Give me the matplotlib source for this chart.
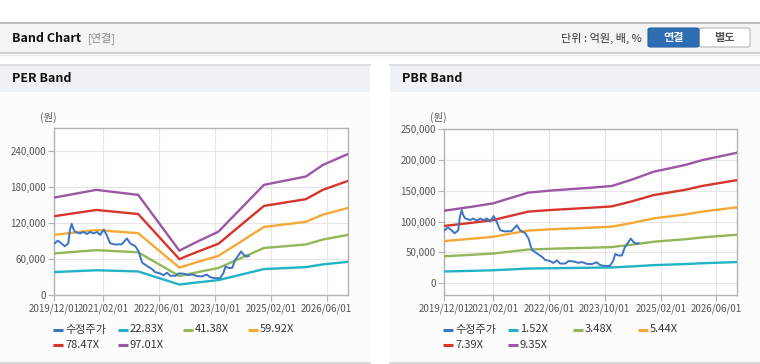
import matplotlib
matplotlib.use("Agg")
import matplotlib.pyplot as plt
import pandas as pd
import numpy as np
from matplotlib.patches import Rectangle, FancyBboxPatch
from matplotlib.lines import Line2D
from matplotlib.ticker import FuncFormatter

plt.rcParams['font.family'] = ['Noto Sans CJK KR', 'DejaVu Sans']

# ---------------- data ----------------
price_dates = ["2019-12-01", "2020-01-01", "2020-02-01", "2020-03-01", "2020-04-01", "2020-04-15",
               "2020-05-01", "2020-05-15", "2020-06-01", "2020-07-13", "2020-08-10", "2020-09-10",
               "2020-10-10", "2020-11-07", "2020-12-07", "2021-01-04", "2021-02-04", "2021-03-01",
               "2021-04-01", "2021-05-13", "2021-07-10", "2021-08-25", "2021-09-22", "2021-11-07",
               "2021-12-04", "2022-01-04", "2022-02-15", "2022-04-01", "2022-04-28", "2022-06-10",
               "2022-07-10", "2022-08-10", "2022-09-07", "2022-10-22", "2022-11-19", "2023-01-01",
               "2023-02-15", "2023-03-13", "2023-04-28", "2023-06-10", "2023-07-22", "2023-08-22",
               "2023-10-04", "2023-11-15", "2023-12-15", "2024-01-01", "2024-01-28", "2024-02-28",
               "2024-03-25", "2024-04-25", "2024-05-15", "2024-06-07", "2024-07-04", "2024-07-22"]
price_values = [85500, 90500, 86000, 81000, 86000, 108000,
                118500, 110000, 105000, 102500, 105000, 101500,
                105000, 102500, 105000, 100000, 109000, 100000,
                86000, 84000, 84500, 94000, 86000, 81000,
                73000, 54000, 48500, 43000, 38000, 36000,
                33000, 37000, 32000, 32000, 36000, 35500,
                33000, 34500, 31500, 31000, 34000, 29500,
                28000, 28000, 37000, 47500, 45000, 45000,
                58500, 66500, 72500, 67000, 64000, 65000]

eps_dates = ["2019-12-01", "2020-12-01", "2021-12-01", "2022-11-25", "2023-04-01",
             "2023-11-01", "2024-12-01", "2025-12-01", "2026-05-01", "2026-12-01"]
eps_values = [1672, 1804, 1718, 761, 888, 1088, 1890, 2033, 2234, 2417]
per_multiples = [22.83, 41.38, 59.92, 78.47, 97.01]

bps_dates = ["2019-12-01", "2020-08-01", "2021-02-01", "2021-06-01", "2021-12-01", "2022-06-01",
             "2023-06-01", "2023-12-01", "2024-06-01", "2024-12-01", "2025-09-01", "2026-02-01",
             "2026-12-01"]
bps_values = [12578, 13273, 13861, 14599, 15701, 16043, 16567, 16856, 18011, 19337, 20492, 21358, 22631]
pbr_multiples = [1.52, 3.48, 5.44, 7.39, 9.35]

price_label = "수정주가"
band_colors = ["#22b2c6", "#93b658", "#f5a835", "#d6352e", "#9a57a3"]
price_color = "#3b74c3"

xtick_dates = ["2019-12-01", "2021-02-01", "2022-06-01", "2023-10-01", "2025-02-01", "2026-06-01"]
xtick_labels = ["2019/12/01", "2021/02/01", "2022/06/01", "2023/10/01", "2025/02/01", "2026/06/01"]
per_yticks = [0, 60000, 120000, 180000, 240000]
pbr_yticks = [0, 50000, 100000, 150000, 200000, 250000]

# ---------------- figure ----------------
W, H = 760, 364
fig = plt.figure(figsize=(W / 100, H / 100), dpi=100)
fig.patch.set_facecolor("white")


def fx(x):
    return x / W


def fy(y):
    return 1 - y / H


def rect(x0, y0, x1, y1, fc, ec="none", lw=0, z=0):
    fig.add_artist(Rectangle((fx(x0), fy(y1)), fx(x1) - fx(x0), fy(y0) - fy(y1),
                             transform=fig.transFigure, facecolor=fc, edgecolor=ec, lw=lw, zorder=z))


def hline(x0, x1, y, color, lw=1.0):
    fig.add_artist(Line2D([fx(x0), fx(x1)], [fy(y), fy(y)], transform=fig.transFigure,
                          color=color, lw=lw))


# top header
rect(0, 22, 760, 53, "#f4f4f4")
hline(0, 760, 22.5, "#b4b4b4", 1.2)
hline(0, 760, 53, "#c9c9c9", 1.2)
hline(0, 760, 54.5, "#e6e6e6", 1.0)
fig.text(fx(12), fy(38), "Band Chart", fontsize=9, fontweight="bold", color="#111", va="center")
fig.text(fx(88), fy(38), "[연결]", fontsize=8, color="#8a8a8a", va="center")
fig.text(fx(642), fy(38), "단위 : 억원, 배, %", fontsize=8, color="#333", va="center", ha="right")
fig.add_artist(FancyBboxPatch((fx(699), fy(47)), fx(750) - fx(699), fy(28) - fy(47),
                              boxstyle="round,pad=0,rounding_size=0.004", transform=fig.transFigure,
                              facecolor="white", edgecolor="#b8b8b8", lw=0.8))
fig.add_artist(FancyBboxPatch((fx(648), fy(47)), fx(699) - fx(648), fy(28) - fy(47),
                              boxstyle="round,pad=0,rounding_size=0.004", transform=fig.transFigure,
                              facecolor="#2f6db3", edgecolor="#2a63a3", lw=0.8))
fig.text(fx(673.5), fy(37.5), "연결", fontsize=8, fontweight="bold", color="white", va="center", ha="center")
fig.text(fx(724.5), fy(37.5), "별도", fontsize=8, fontweight="bold", color="#555", va="center", ha="center")

# panels
panels = [(0, 370, "PER Band"), (390, 760, "PBR Band")]
for x0, x1, title in panels:
    rect(x0, 92, x1, 362, "#fcfcfc")
    rect(x0, 64, x1, 92, "#eef2f7")
    hline(x0, x1, 64.5, "#d6d9dd", 1.2)
    hline(x0, x1, 362.5, "#d2d2d2", 1.2)
    fig.text(fx(x0 + 12), fy(79), title, fontsize=9, fontweight="bold", color="#111", va="center")


def thousands(v, pos):
    return f"{int(v):,}"


def make_axes(left, right, top, bottom, ylim, yticks, ylab_x):
    ax = fig.add_axes([fx(left), fy(bottom), fx(right) - fx(left), fy(top) - fy(bottom)])
    ax.set_facecolor("white")
    ax.set_xlim(pd.Timestamp("2019-12-01"), pd.Timestamp("2026-12-01"))
    ax.set_ylim(*ylim)
    ax.set_yticks(yticks)
    ax.yaxis.set_major_formatter(FuncFormatter(thousands))
    ax.set_xticks(pd.to_datetime(xtick_dates))
    ax.set_xticklabels(xtick_labels)
    ax.grid(True, color="#e6e6e6", lw=0.8)
    ax.set_axisbelow(True)
    for s in ax.spines.values():
        s.set_color("#b3b3b3")
        s.set_linewidth(1.0)
    ax.tick_params(axis="both", length=4, color="#b3b3b3", labelcolor="#555", labelsize=7, pad=2)
    fig.text(fx(ylab_x), fy(117), "(원)", fontsize=7.5, color="#555", ha="center", va="center")
    return ax


ax1 = make_axes(54.3, 347.7, 128, 295, (0, 278000), per_yticks, 48)
ax2 = make_axes(444.3, 737.3, 129, 295, (-19000, 250000), pbr_yticks, 438)

pdates = pd.to_datetime(price_dates)
edates = pd.to_datetime(eps_dates)
bdates = pd.to_datetime(bps_dates)


def draw(ax, dates, base, mults, legend_x):
    ax.plot(pdates, price_values, color=price_color, lw=1.4, zorder=5)
    for m, c in zip(mults, band_colors):
        ax.plot(dates, np.array(base) * m, color=c, lw=1.7, zorder=3)
    labels = [price_label] + [f"{m:.2f}X" for m in mults]
    colors = [price_color] + band_colors
    for i, (lab, c) in enumerate(zip(labels, colors)):
        col, row = i % 4, i // 4
        x = legend_x + col * 65
        y = 329.5 + row * 15
        fig.add_artist(Line2D([fx(x), fx(x + 10)], [fy(y), fy(y)], transform=fig.transFigure,
                              color=c, lw=2.2, solid_capstyle="butt"))
        fig.text(fx(x + 12), fy(y), lab, fontsize=8, color="#333", va="center")


draw(ax1, edates, eps_values, per_multiples, 53)
draw(ax2, bdates, bps_values, pbr_multiples, 443)

fig.savefig("out.png", dpi=100)
